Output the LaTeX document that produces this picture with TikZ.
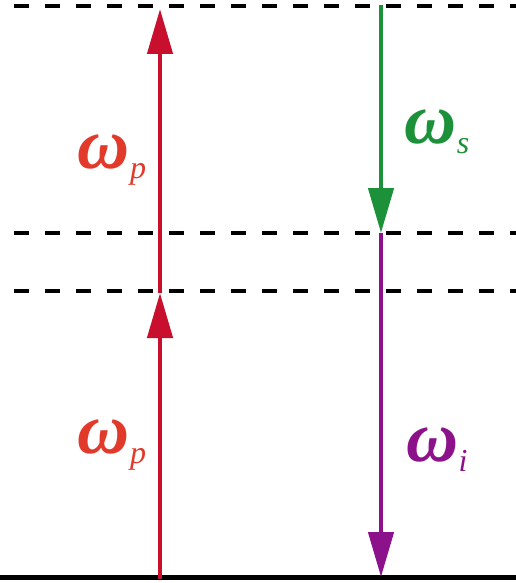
\documentclass[tikz,border=0pt]{standalone}
\usepackage{fontspec}
\setmainfont{Liberation Serif}
\usetikzlibrary{arrows.meta}
\definecolor{pumpred}{RGB}{200,16,46}
\definecolor{lblred}{RGB}{226,58,42}
\definecolor{sgreen}{RGB}{28,145,58}
\definecolor{ipurple}{RGB}{140,18,140}
\newcommand\omlbl[1]{{\fontsize{72}{74}\selectfont\bfseries\itshape ω}\raisebox{-10pt}{\fontsize{32}{34}\selectfont\itshape #1}}
\begin{document}
\begin{tikzpicture}[x=1pt,y=-1pt,
  level/.style={line width=4pt,dash pattern=on 15pt off 16pt},
  ground/.style={line width=5pt},
  transition/.style={line width=4.5pt,-{Triangle[length=45pt,width=25pt]}},
  lbl/.style={inner sep=0pt,anchor=center}]
\useasboundingbox (0,0) rectangle (516,583);
% levels
\coordinate (t0) at (-16.7,6);
\coordinate (t1) at (530,6);
\coordinate (s0) at (-16.7,233);
\coordinate (s1) at (530,233);
\coordinate (v0) at (-16.7,291);
\coordinate (v1) at (530,291);
\coordinate (g0) at (0,577);
\coordinate (g1) at (516,577);
\draw[level] (t0) -- (t1);
\draw[level] (s0) -- (s1);
\draw[level] (v0) -- (v1);
\draw[ground] (g0) -- (g1);
% arrow points
\coordinate (pa) at (160,579);
\coordinate (pb) at (160,293);
\coordinate (pc) at (160,9);
\coordinate (sa) at (381,5);
\coordinate (sb) at (381,233);
\coordinate (ia) at (381,577);
\draw[transition,pumpred] (pa) -- (pb);
\draw[transition,pumpred] (pb) -- (pc);
\draw[transition,sgreen] (sa) -- (sb);
\draw[transition,ipurple] (sb) -- (ia);
% labels
\node[lbl,text=lblred] (lp1) at (112,160) {\omlbl{p}};
\node[lbl,text=lblred] (lp2) at (112,445) {\omlbl{p}};
\node[lbl,text=sgreen] (ls) at (437,132) {\omlbl{s}};
\node[lbl,text=ipurple] (li) at (437,450) {\omlbl{i}};
\end{tikzpicture}
\end{document}
